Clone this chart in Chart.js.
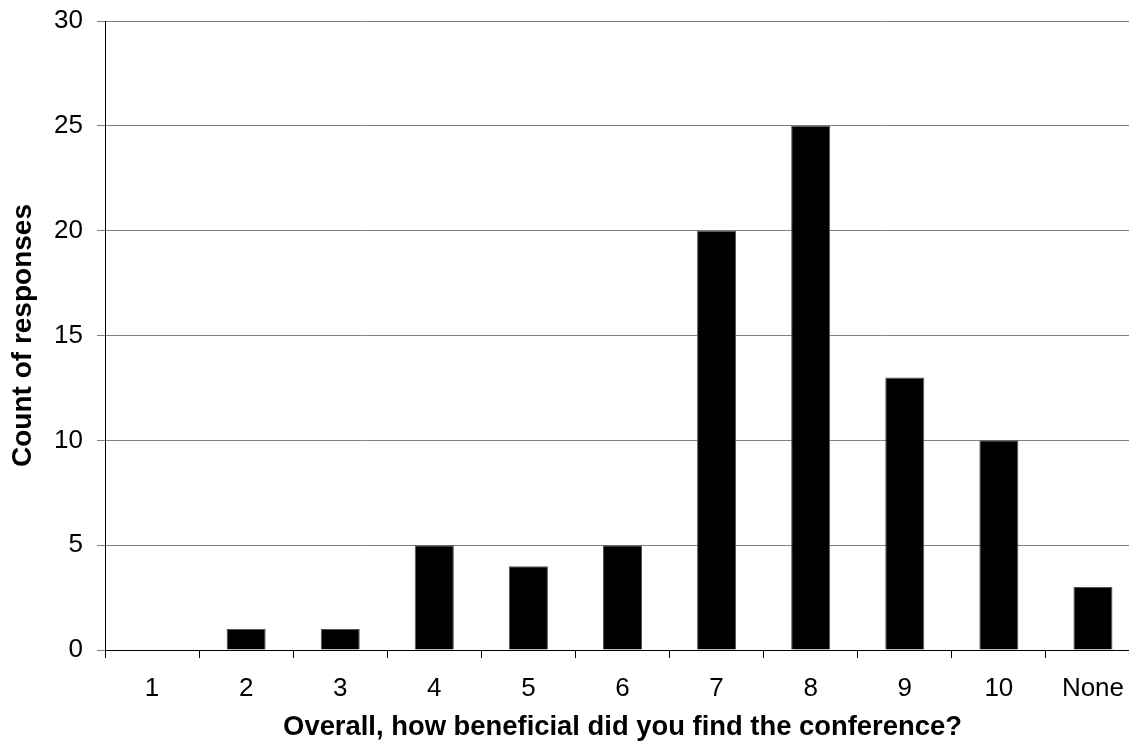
<!DOCTYPE html>
<html>
<head>
<meta charset="utf-8">
<script src="https://cdn.jsdelivr.net/npm/chart.js@4"></script>
<style>
  html, body { margin: 0; padding: 0; background: #fff; overflow: hidden; width: 1129px; height: 752px; }
  #wrap { position: absolute; left: 0; top: 0; width: 1150px; height: 752px; }
</style>
</head>
<body>
<div id="wrap"><canvas id="c" width="1150" height="752"></canvas></div>
<script>
const categories = ["1", "2", "3", "4", "5", "6", "7", "8", "9", "10", "None"];
const counts = [0, 1, 1, 5, 4, 5, 20, 25, 13, 10, 3];
const yTicks = [0, 5, 10, 15, 20, 25, 30];
const xTitle = "Overall, how beneficial did you find the conference?";
const yTitle = "Count of responses";

const FONT = "'Liberation Sans', Arial, sans-serif";

new Chart(document.getElementById('c'), {
  type: 'bar',
  data: {
    labels: categories,
    datasets: [{
      data: counts,
      backgroundColor: '#000000',
      borderColor: '#555555',
      borderWidth: 1,
      borderSkipped: 'bottom',
      categoryPercentage: 1.0,
      barPercentage: 0.415
    }]
  },
  options: {
    responsive: false,
    animation: false,
    devicePixelRatio: 1,
    layout: { padding: { top: 21, right: 10, bottom: 0, left: 0 } },
    plugins: { legend: { display: false }, tooltip: { enabled: false } },
    scales: {
      x: {
        offset: true,
        grid: {
          offset: true,
          drawOnChartArea: false,
          drawTicks: true,
          tickLength: 8,
          color: '#000000',
          lineWidth: 1
        },
        border: { display: true, color: '#000000', width: 1 },
        ticks: {
          color: '#000000',
          padding: 15,
          font: { family: FONT, size: 26 },
          maxRotation: 0,
          autoSkip: false
        },
        title: {
          display: true,
          text: xTitle,
          color: '#000000',
          font: { family: FONT, size: 27.4, weight: 'bold' },
          padding: { top: 0, bottom: 8 }
        },
        afterFit: (s) => { s.height = 102; s.paddingLeft = 0; s.paddingRight = 0; }
      },
      y: {
        min: 0,
        max: 30,
        afterBuildTicks: (s) => { s.ticks = yTicks.map(v => ({ value: v })); },
        grid: {
          color: '#808080',
          lineWidth: 1,
          drawTicks: true,
          tickLength: 8
        },
        border: { display: true, color: '#000000', width: 1 },
        ticks: {
          color: '#000000',
          padding: 14,
          font: { family: FONT, size: 26 }
        },
        title: {
          display: true,
          text: yTitle,
          color: '#000000',
          font: { family: FONT, size: 28, weight: 'bold' },
          padding: { top: 6, bottom: 0 }
        },
        afterFit: (s) => { s.width = 105; s.paddingTop = 0; s.paddingBottom = 0; }
      }
    }
  }
});
</script>
</body>
</html>
